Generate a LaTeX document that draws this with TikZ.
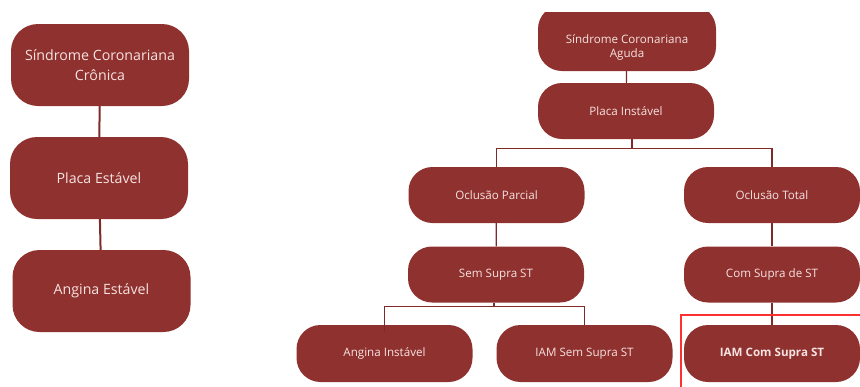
\documentclass[tikz,border=0pt]{standalone}
\usepackage{fontspec}
\setmainfont{Open Sans}
\usepackage{tikz}
\usetikzlibrary{positioning,calc}
\definecolor{boxred}{HTML}{8F312E}
\definecolor{boxtext}{HTML}{F6E3E2}
\definecolor{linered}{HTML}{7E2A28}
\definecolor{markred}{HTML}{FF3030}

\begin{document}
\begin{tikzpicture}[x=1pt,y=-1pt,
  bigbox/.style={fill=boxred,text=boxtext,rounded corners=27pt,minimum width=178pt,minimum height=82pt,align=center,font=\fontsize{14.2}{20}\selectfont},
  smallbox/.style={fill=boxred,text=boxtext,rounded corners=24pt,minimum width=176pt,minimum height=56pt,align=center,font=\fontsize{11.6}{14}\selectfont},
  tie/.style={draw=linered,line width=1.2pt},
  bigtie/.style={draw=linered,line width=2pt}]
\useasboundingbox (0,0) rectangle (860,386);
\clip (0,12) rectangle (860,386);
% cronica
\node[bigbox] (scc) at (100,65) {Síndrome Coronariana\\Crônica};
\node[bigbox] (pe) at (99,178) {Placa Estável};
\node[bigbox] (ae) at (101.5,291) {Angina Estável};
\draw[bigtie] (scc) -- (pe);
\draw[bigtie] (pe) -- (ae);
% aguda
\node[smallbox,minimum width=178pt,minimum height=66pt] (sca) at (627,38)
  {\raisebox{-13pt}[0pt][0pt]{\begin{tabular}{@{}c@{}}Síndrome Coronariana\\Aguda\end{tabular}}};
\node[smallbox] (pi) at (626,111) {Placa Instável};
\node[smallbox] (op) at (496.5,195) {Oclusão Parcial};
\node[smallbox] (ot) at (772,195) {Oclusão Total};
\node[smallbox] (sss) at (496,274.5) {Sem Supra ST};
\node[smallbox] (csst) at (772,274.5) {Com Supra de ST};
\node[smallbox,minimum height=57pt] (ai) at (384.5,353.5) {Angina Instável};
\node[smallbox,minimum height=57pt] (iams) at (584.5,353.5) {IAM Sem Supra ST};
\node[smallbox,minimum height=57pt] (iamc) at (772,353.5) {\textbf{IAM Com Supra ST}};
\draw[tie] (sca) -- (pi);
\draw[tie] ([xshift=6pt]pi.south) -- ++(0,9) -| (op.north);
\draw[tie] ([xshift=6pt]pi.south) -- ++(0,9) -| (ot.north);
\draw[tie] (op) -- (sss);
\draw[tie] (ot) -- (csst);
\draw[tie] ([xshift=-2pt]sss.south) -- ++(0,4) -| ([yshift=-7pt]ai.north);
\draw[tie] ([xshift=-2pt]sss.south) -- ++(0,4) -| (iams.north);
\draw[tie] (csst) -- (iamc);
% destaque
\draw[markred,line width=1.8pt] ([shift={(-3,-10)}]iamc.north west) rectangle ([shift={(10,10)}]iamc.south east);
\end{tikzpicture}
\end{document}
